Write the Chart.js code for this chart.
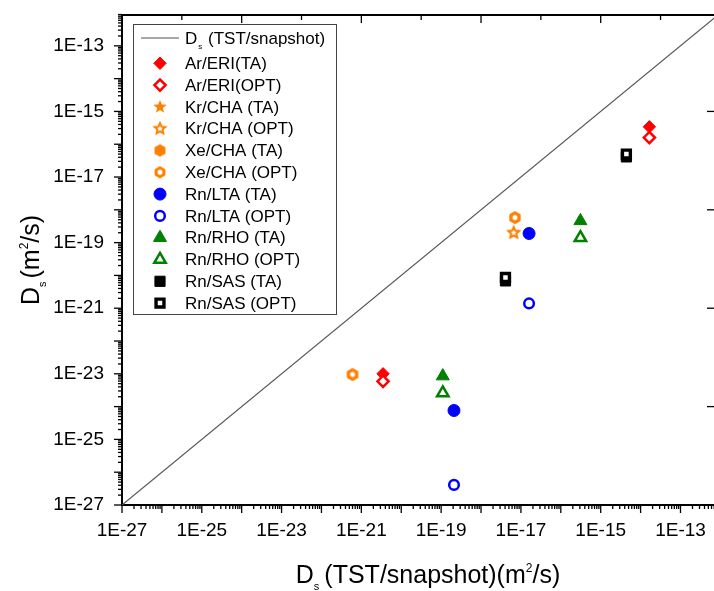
<!DOCTYPE html>
<html>
<head>
<meta charset="utf-8">
<script src="https://cdn.jsdelivr.net/npm/chart.js@4.4.1/dist/chart.umd.min.js"></script>
<style>
  html, body { margin: 0; padding: 0; background: #fff; }
  #wrap { width: 714px; height: 591px; }
</style>
</head>
<body>
<div id="wrap"><canvas id="dsChart" width="714" height="591"></canvas></div>
<script>
// values (m^2/s)
const diagX = [1e-27, 1e-12];
const diagY = [1e-27, 1e-12];

const arEriX   = [3.5e-21, 1.66e-14];
const arEriTA  = [1.0e-23, 3.4e-16];
const arEriOPT = [5.9e-24, 1.6e-16];

const krChaX   = [6.6e-18];
const krChaTA  = [2.0e-19];
const krChaOPT = [2.0e-19];

const xeChaX   = [6.0e-22, 7.1e-18];
const xeChaTA  = [9.5e-24, 5.8e-19];
const xeChaOPT = [9.5e-24, 5.8e-19];

const rnLtaX   = [2.1e-19, 1.6e-17];
const rnLtaTA  = [7.6e-25, 1.9e-19];
const rnLtaOPT = [4.1e-27, 1.4e-21];

const rnRhoX   = [1.1e-19, 3.1e-16];
const rnRhoTA  = [8.5e-24, 4.6e-19];
const rnRhoOPT = [2.6e-24, 1.4e-19];

const rnSasX   = [4.1e-18, 4.4e-15];
const rnSasTA  = [6.8e-21, 4.1e-17];
const rnSasOPT = [8.7e-21, 5.0e-17];

// tick labels (exponents)
const xLabelExps = [-27, -25, -23, -21, -19, -17, -15, -13];
const yLabelExps = [-27, -25, -23, -21, -19, -17, -15, -13];

const FONT = "'Liberation Sans', Arial, Helvetica, sans-serif";
const RED = '#ff0000', ORANGE = '#ff8000', BLUE = '#0000ff', GREEN = '#008000', BLACK = '#000000';

// star / hexagon markers drawn on small canvases
function shapeCanvas(kind, open, color) {
    const c = document.createElement('canvas');
    c.width = 18; c.height = 18;
    const g = c.getContext('2d');
    const cx = 9, cy = 9;
    g.beginPath();
    if (kind === 'star') {
        const R = open ? 5.6 : 7, r = open ? 2.6 : 3;
        for (let i = 0; i < 10; i++) {
            const a = -Math.PI / 2 + i * Math.PI / 5;
            const rr = i % 2 ? r : R;
            g.lineTo(cx + rr * Math.cos(a), cy + rr * Math.sin(a));
        }
    } else {
        const R = open ? 4.5 : 6.3;
        for (let i = 0; i < 6; i++) {
            const a = -Math.PI / 2 + i * Math.PI / 3;
            g.lineTo(cx + R * Math.cos(a), cy + R * Math.sin(a));
        }
    }
    g.closePath();
    if (open) {
        g.fillStyle = '#fff'; g.fill();
        g.lineWidth = kind === 'star' ? 2 : 3; g.strokeStyle = color; g.stroke();
    } else {
        g.fillStyle = color; g.fill();
    }
    return c;
}

const series = [
    { label: 'Ar/ERI(TA)',     x: arEriX, y: arEriTA,  style: 'rectRot',  color: RED,    open: false, r: 6.2 },
    { label: 'Ar/ERI(OPT)',    x: arEriX, y: arEriOPT, style: 'rectRot',  color: RED,    open: true,  r: 5.6 },
    { label: 'Kr/CHA (TA)',    x: krChaX, y: krChaTA,  style: shapeCanvas('star', false, ORANGE), color: ORANGE, open: false, r: 7 },
    { label: 'Kr/CHA (OPT)',   x: krChaX, y: krChaOPT, style: shapeCanvas('star', true, ORANGE),  color: ORANGE, open: true,  r: 7 },
    { label: 'Xe/CHA (TA)',    x: xeChaX, y: xeChaTA,  style: shapeCanvas('hex', false, ORANGE),  color: ORANGE, open: false, r: 7 },
    { label: 'Xe/CHA (OPT)',   x: xeChaX, y: xeChaOPT, style: shapeCanvas('hex', true, ORANGE),   color: ORANGE, open: true,  r: 7 },
    { label: 'Rn/LTA (TA)',    x: rnLtaX, y: rnLtaTA,  style: 'circle',   color: BLUE,   open: false, r: 6 },
    { label: 'Rn/LTA (OPT)',   x: rnLtaX, y: rnLtaOPT, style: 'circle',   color: BLUE,   open: true,  r: 4.8 },
    { label: 'Rn/RHO (TA)',    x: rnRhoX, y: rnRhoTA,  style: 'triangle', color: GREEN,  open: false, r: 7.5 },
    { label: 'Rn/RHO (OPT)',   x: rnRhoX, y: rnRhoOPT, style: 'triangle', color: GREEN,  open: true,  r: 6.6 },
    { label: 'Rn/SAS (TA)',    x: rnSasX, y: rnSasTA,  style: 'rect',     color: BLACK,  open: false, r: 7.2 },
    { label: 'Rn/SAS (OPT)',   x: rnSasX, y: rnSasOPT, style: 'rect',     color: BLACK,  open: true,  r: 5.6 }
];

const datasets = [{
    label: 'Ds (TST/snapshot)',
    data: diagX.map((x, i) => ({ x: x, y: diagY[i] })),
    showLine: true,
    borderColor: '#555',
    borderWidth: 1.2,
    pointRadius: 0,
    order: 2
}];
series.forEach(s => {
    datasets.push({
        label: s.label,
        data: s.x.map((x, i) => ({ x: x, y: s.y[i] })),
        pointStyle: s.style,
        pointRadius: s.r,
        backgroundColor: s.open ? '#fff' : s.color,
        borderColor: s.color,
        borderWidth: s.open ? (s.style === 'rect' ? 3.4 : 2.5) : 1,
        order: s.open ? 0 : 1
    });
});

// draw text with sub/superscripts
function drawRich(ctx, parts, cx, baseline) {
    let total = 0;
    parts.forEach(p => { ctx.font = p.size + 'px ' + FONT; p.w = ctx.measureText(p.t).width + (p.gap || 0); total += p.w; });
    let x = cx - total / 2;
    ctx.textBaseline = 'alphabetic';
    ctx.textAlign = 'left';
    parts.forEach(p => {
        ctx.font = p.size + 'px ' + FONT;
        ctx.fillText(p.t, x, baseline + (p.dy || 0));
        x += p.w;
    });
}

const decorPlugin = {
    id: 'decor',
    afterDraw(chart) {
        const ctx = chart.ctx, a = chart.chartArea;
        const xs = chart.scales.x, ys = chart.scales.y;
        ctx.save();
        ctx.strokeStyle = '#000';
        ctx.lineWidth = 1.3;
        const seg = (x1, y1, x2, y2) => { ctx.beginPath(); ctx.moveTo(x1, y1); ctx.lineTo(x2, y2); ctx.stroke(); };

        // log ticks on bottom and left axes
        for (let e = -27; e <= -12; e++) {
            for (let k = 1; k <= 9; k++) {
                const v = k * Math.pow(10, e);
                const len = k === 1 ? 8 : 4;
                const px = xs.getPixelForValue(v);
                if (px >= a.left - 0.5 && px <= a.right + 0.5) seg(px, a.bottom, px, a.bottom + len);
                const py = ys.getPixelForValue(v);
                if (py <= a.bottom + 0.5 && py >= a.top - 0.5) seg(a.left - len, py, a.left, py);
            }
        }
        // top border with inward ticks
        ctx.lineWidth = 2;
        seg(a.left - 1, a.top, a.right, a.top);
        ctx.lineWidth = 1.3;
        for (let j = 1; j <= 10; j++) {
            const e = -27 + 1.5 * j;
            const px = xs.getPixelForValue(Math.pow(10, e));
            if (px > a.right) continue;
            seg(px, a.top, px, a.top + (Number.isInteger(e) ? 8 : 5));
        }
        // right side inward ticks
        [-24, -21, -18, -15].forEach(e => {
            const py = ys.getPixelForValue(Math.pow(10, e));
            seg(a.right - 7, py, a.right, py);
        });

        // axis titles
        ctx.fillStyle = '#000';
        drawRich(ctx, [
            { t: 'D', size: 25 },
            { t: 's', size: 11, dy: 7, gap: 5 },
            { t: '(TST/snapshot)(m', size: 25 },
            { t: '2', size: 12, dy: -11 },
            { t: '/s)', size: 25 }
        ], (a.left + a.right) / 2 + 10, 583);

        ctx.save();
        ctx.translate(30, (a.top + a.bottom) / 2);
        ctx.rotate(-Math.PI / 2);
        drawRich(ctx, [
            { t: 'D', size: 25 },
            { t: 's', size: 11, dy: 7, gap: 3 },
            { t: '(m', size: 25 },
            { t: '2', size: 12, dy: -11 },
            { t: '/s)', size: 25 }
        ], 0, 9);
        ctx.restore();

        // legend box
        const lx = 133, ly = 24, lw = 203, lh = 290;
        ctx.fillStyle = '#fff';
        ctx.fillRect(lx, ly, lw, lh);
        ctx.strokeStyle = '#444';
        ctx.lineWidth = 1;
        ctx.strokeRect(lx + 0.5, ly + 0.5, lw, lh);

        ctx.strokeStyle = '#555';
        ctx.lineWidth = 1.2;
        seg(141, 38, 179, 38);
        ctx.fillStyle = '#000';
        ctx.textBaseline = 'alphabetic';
        ctx.textAlign = 'left';
        ctx.font = '17px ' + FONT;
        ctx.fillText('D', 185, 44);
        const dw = ctx.measureText('D').width;
        ctx.font = '8px ' + FONT;
        ctx.fillText('s', 185 + dw + 1, 49);
        ctx.font = '17px ' + FONT;
        ctx.fillText('(TST/snapshot)', 208, 44);

        series.forEach((s, i) => {
            const y = 63.3 + i * 21.8;
            const ds = chart.data.datasets[i + 1];
            ctx.fillStyle = ds.backgroundColor;
            ctx.strokeStyle = ds.borderColor;
            ctx.lineWidth = ds.borderWidth;
            if (Chart.helpers && Chart.helpers.drawPoint) {
                Chart.helpers.drawPoint(ctx, { pointStyle: s.style, radius: s.r, borderWidth: ds.borderWidth, rotation: 0 }, 160, y);
            }
            ctx.fillStyle = '#000';
            ctx.font = '17px ' + FONT;
            ctx.textBaseline = 'middle';
            ctx.fillText(s.label, 185, y + 1);
        });
        ctx.restore();
    }
};

const tickFont = { family: FONT, size: 19 };

new Chart(document.getElementById('dsChart').getContext('2d'), {
    type: 'scatter',
    data: { datasets: datasets },
    options: {
        responsive: false,
        animation: false,
        events: [],
        layout: { autoPadding: false, padding: { top: 15, right: 0, left: 0, bottom: 0 } },
        plugins: {
            legend: { display: false },
            tooltip: { enabled: false }
        },
        scales: {
            x: {
                type: 'logarithmic',
                min: 1e-27,
                max: Math.pow(10, -12.16),
                afterBuildTicks: s => { s.ticks = xLabelExps.map(e => ({ value: Math.pow(10, e) })); },
                afterFit: s => { s.height = 86; s.paddingRight = 0; s.paddingLeft = 0; },
                grid: { display: false, drawTicks: true, tickLength: 8 },
                border: { display: true, color: '#000', width: 2 },
                ticks: {
                    autoSkip: false, maxRotation: 0, padding: 6, color: '#000', font: tickFont,
                    callback: v => '1E' + Math.round(Math.log10(v))
                }
            },
            y: {
                type: 'logarithmic',
                min: 1e-27,
                max: Math.pow(10, -12.06),
                afterBuildTicks: s => { s.ticks = yLabelExps.map(e => ({ value: Math.pow(10, e) })); },
                afterFit: s => { s.width = 122; s.paddingTop = 0; s.paddingBottom = 0; },
                grid: { display: false, drawTicks: true, tickLength: 8 },
                border: { display: true, color: '#000', width: 2 },
                ticks: {
                    autoSkip: false, padding: 10, color: '#000', font: tickFont,
                    callback: v => '1E' + Math.round(Math.log10(v))
                }
            }
        }
    },
    plugins: [decorPlugin]
});
</script>
</body>
</html>
